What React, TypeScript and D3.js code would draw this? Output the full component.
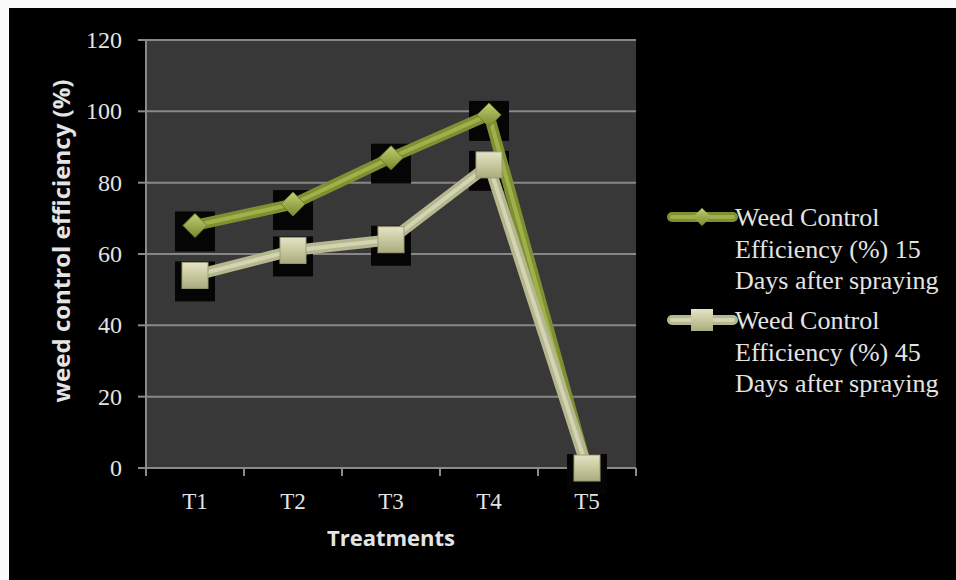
import React from "react";
import * as d3 from "d3";

const categories = ["T1", "T2", "T3", "T4", "T5"];
const days15 = [68, 74, 87, 99, 0];
const days45 = [54, 61, 64, 85, 0];
const yTicks = [0, 20, 40, 60, 80, 100, 120];
const legend15 = ["Weed Control", "Efficiency (%) 15", "Days after spraying"];
const legend45 = ["Weed Control", "Efficiency (%) 45", "Days after spraying"];

const W = 956;
const H = 580;
const plot = { left: 146, right: 636, top: 40, bottom: 468 };

export default function App() {
  const x = d3
    .scaleBand<string>()
    .domain(categories)
    .range([plot.left, plot.right])
    .padding(0);
  const cx = (c: string) => (x(c) as number) + x.bandwidth() / 2;
  const y = d3.scaleLinear().domain([0, 120]).range([plot.bottom, plot.top]);

  const line = d3
    .line<number>()
    .x((_, i) => cx(categories[i]))
    .y((d) => y(d));

  const serif = "'Liberation Serif', 'Times New Roman', serif";
  const sans = "'Open Sans', 'Noto Sans', sans-serif";
  const textCol = "#e4e4e4";

  const diamond = (px: number, py: number, r: number) =>
    `M${px},${py - r}L${px + r},${py}L${px},${py + r}L${px - r},${py}Z`;

  const legendY1 = 217;
  const legendY2 = 320;

  return (
    <svg
      width={W}
      height={H}
      style={{ display: "block", position: "fixed", left: 0, top: 0, background: "#fff" }}
    >
      <defs>
        <linearGradient id="sq" x1="0" y1="0" x2="0" y2="1">
          <stop offset="0" stopColor="#e6e3c8" />
          <stop offset="0.6" stopColor="#c2c497" />
          <stop offset="1" stopColor="#a9ac80" />
        </linearGradient>
        <linearGradient id="dm" x1="0" y1="0" x2="0" y2="1">
          <stop offset="0" stopColor="#c2cf72" />
          <stop offset="1" stopColor="#78892d" />
        </linearGradient>
      </defs>
      <rect x={0} y={0} width={W} height={H} fill="#fbfbfb" />
      <rect x={9} y={8} width={W - 9} height={H - 8} fill="#000" />
      {/* plot area */}
      <rect
        x={plot.left}
        y={plot.top}
        width={plot.right - plot.left}
        height={plot.bottom - plot.top}
        fill="#383838"
      />
      {/* gridlines */}
      {yTicks.map((t) => (
        <line
          key={"g" + t}
          x1={plot.left}
          x2={plot.right}
          y1={y(t)}
          y2={y(t)}
          stroke="#878787"
          strokeWidth={2}
        />
      ))}
      {/* axes */}
      <line x1={plot.left} x2={plot.left} y1={plot.top} y2={plot.bottom} stroke="#8a8a8a" strokeWidth={2} />
      <line x1={plot.left} x2={plot.right} y1={plot.bottom} y2={plot.bottom} stroke="#8a8a8a" strokeWidth={2} />
      {yTicks.map((t) => (
        <g key={"yt" + t}>
          <line x1={plot.left - 8} x2={plot.left} y1={y(t)} y2={y(t)} stroke="#8a8a8a" strokeWidth={2} />
          <text
            x={122}
            y={y(t) + 8}
            textAnchor="end"
            fontFamily={serif}
            fontSize={24}
            fill={textCol}
          >
            {t}
          </text>
        </g>
      ))}
      {categories.map((c) => (
        <line
          key={"xt" + c}
          x1={x(c) as number}
          x2={x(c) as number}
          y1={plot.bottom}
          y2={plot.bottom + 8}
          stroke="#8a8a8a"
          strokeWidth={2}
        />
      ))}
      <line x1={plot.right} x2={plot.right} y1={plot.bottom} y2={plot.bottom + 8} stroke="#8a8a8a" strokeWidth={2} />
      {categories.map((c) => (
        <text
          key={"xl" + c}
          x={cx(c)}
          y={509}
          textAnchor="middle"
          fontFamily={serif}
          fontSize={23}
          fill={textCol}
        >
          {c}
        </text>
      ))}
      {/* axis titles */}
      <text
        x={391}
        y={546}
        textAnchor="middle"
        fontFamily={sans}
        fontWeight="bold"
        fontSize={22}
        fill={textCol}
      >
        Treatments
      </text>
      <text
        transform={`translate(70,241) rotate(-90)`}
        textAnchor="middle"
        fontFamily={sans}
        fontWeight="bold"
        fontSize={24}
        fill={textCol}
      >
        weed control efficiency (%)
      </text>
      {/* marker shadows */}
      {days15.map((d, i) => (
        <rect
          key={"s1" + i}
          x={cx(categories[i]) - 20}
          y={y(d) - 14}
          width={40}
          height={40}
          fill="#050505"
        />
      ))}
      {days45.map((d, i) => (
        <rect
          key={"s2" + i}
          x={cx(categories[i]) - 20}
          y={y(d) - 14}
          width={40}
          height={40}
          fill="#050505"
        />
      ))}
      {/* series 15 days */}
      <path d={line(days15) as string} fill="none" stroke="#7f9032" strokeWidth={11} strokeLinejoin="round" />
      <path d={line(days15) as string} fill="none" stroke="#a0b14c" strokeWidth={4} strokeLinejoin="round" />
      {days15.map((d, i) => (
        <path key={"m1" + i} d={diamond(cx(categories[i]), y(d), 12)} fill="url(#dm)" stroke="#6e7e28" strokeWidth={1} />
      ))}
      {/* series 45 days */}
      <path d={line(days45) as string} fill="none" stroke="#b5b88e" strokeWidth={11} strokeLinejoin="round" />
      <path d={line(days45) as string} fill="none" stroke="#d2d4b4" strokeWidth={4} strokeLinejoin="round" />
      {days45.map((d, i) => (
        <rect
          key={"m2" + i}
          x={cx(categories[i]) - 13}
          y={y(d) - 13}
          width={26}
          height={26}
          fill="url(#sq)"
          stroke="#9a9d72"
          strokeWidth={1}
        />
      ))}
      {/* legend */}
      <g>
        <line x1={672} x2={733} y1={legendY1} y2={legendY1} stroke="#7f9032" strokeWidth={10} strokeLinecap="round" />
        <line x1={672} x2={733} y1={legendY1} y2={legendY1} stroke="#a0b14c" strokeWidth={4} strokeLinecap="round" />
        <path d={diamond(702, legendY1, 9)} fill="url(#dm)" />
        {legend15.map((t, i) => (
          <text key={"l1" + i} x={735} y={legendY1 + 9 + i * 31.5} fontFamily={serif} fontSize={26} fill={textCol}>
            {t}
          </text>
        ))}
        <line x1={672} x2={733} y1={legendY2} y2={legendY2} stroke="#b5b88e" strokeWidth={10} strokeLinecap="round" />
        <line x1={672} x2={733} y1={legendY2} y2={legendY2} stroke="#d2d4b4" strokeWidth={4} strokeLinecap="round" />
        <rect x={702 - 11} y={legendY2 - 11} width={22} height={22} fill="url(#sq)" />
        {legend45.map((t, i) => (
          <text key={"l2" + i} x={735} y={legendY2 + 9 + i * 31.5} fontFamily={serif} fontSize={26} fill={textCol}>
            {t}
          </text>
        ))}
      </g>
    </svg>
  );
}
